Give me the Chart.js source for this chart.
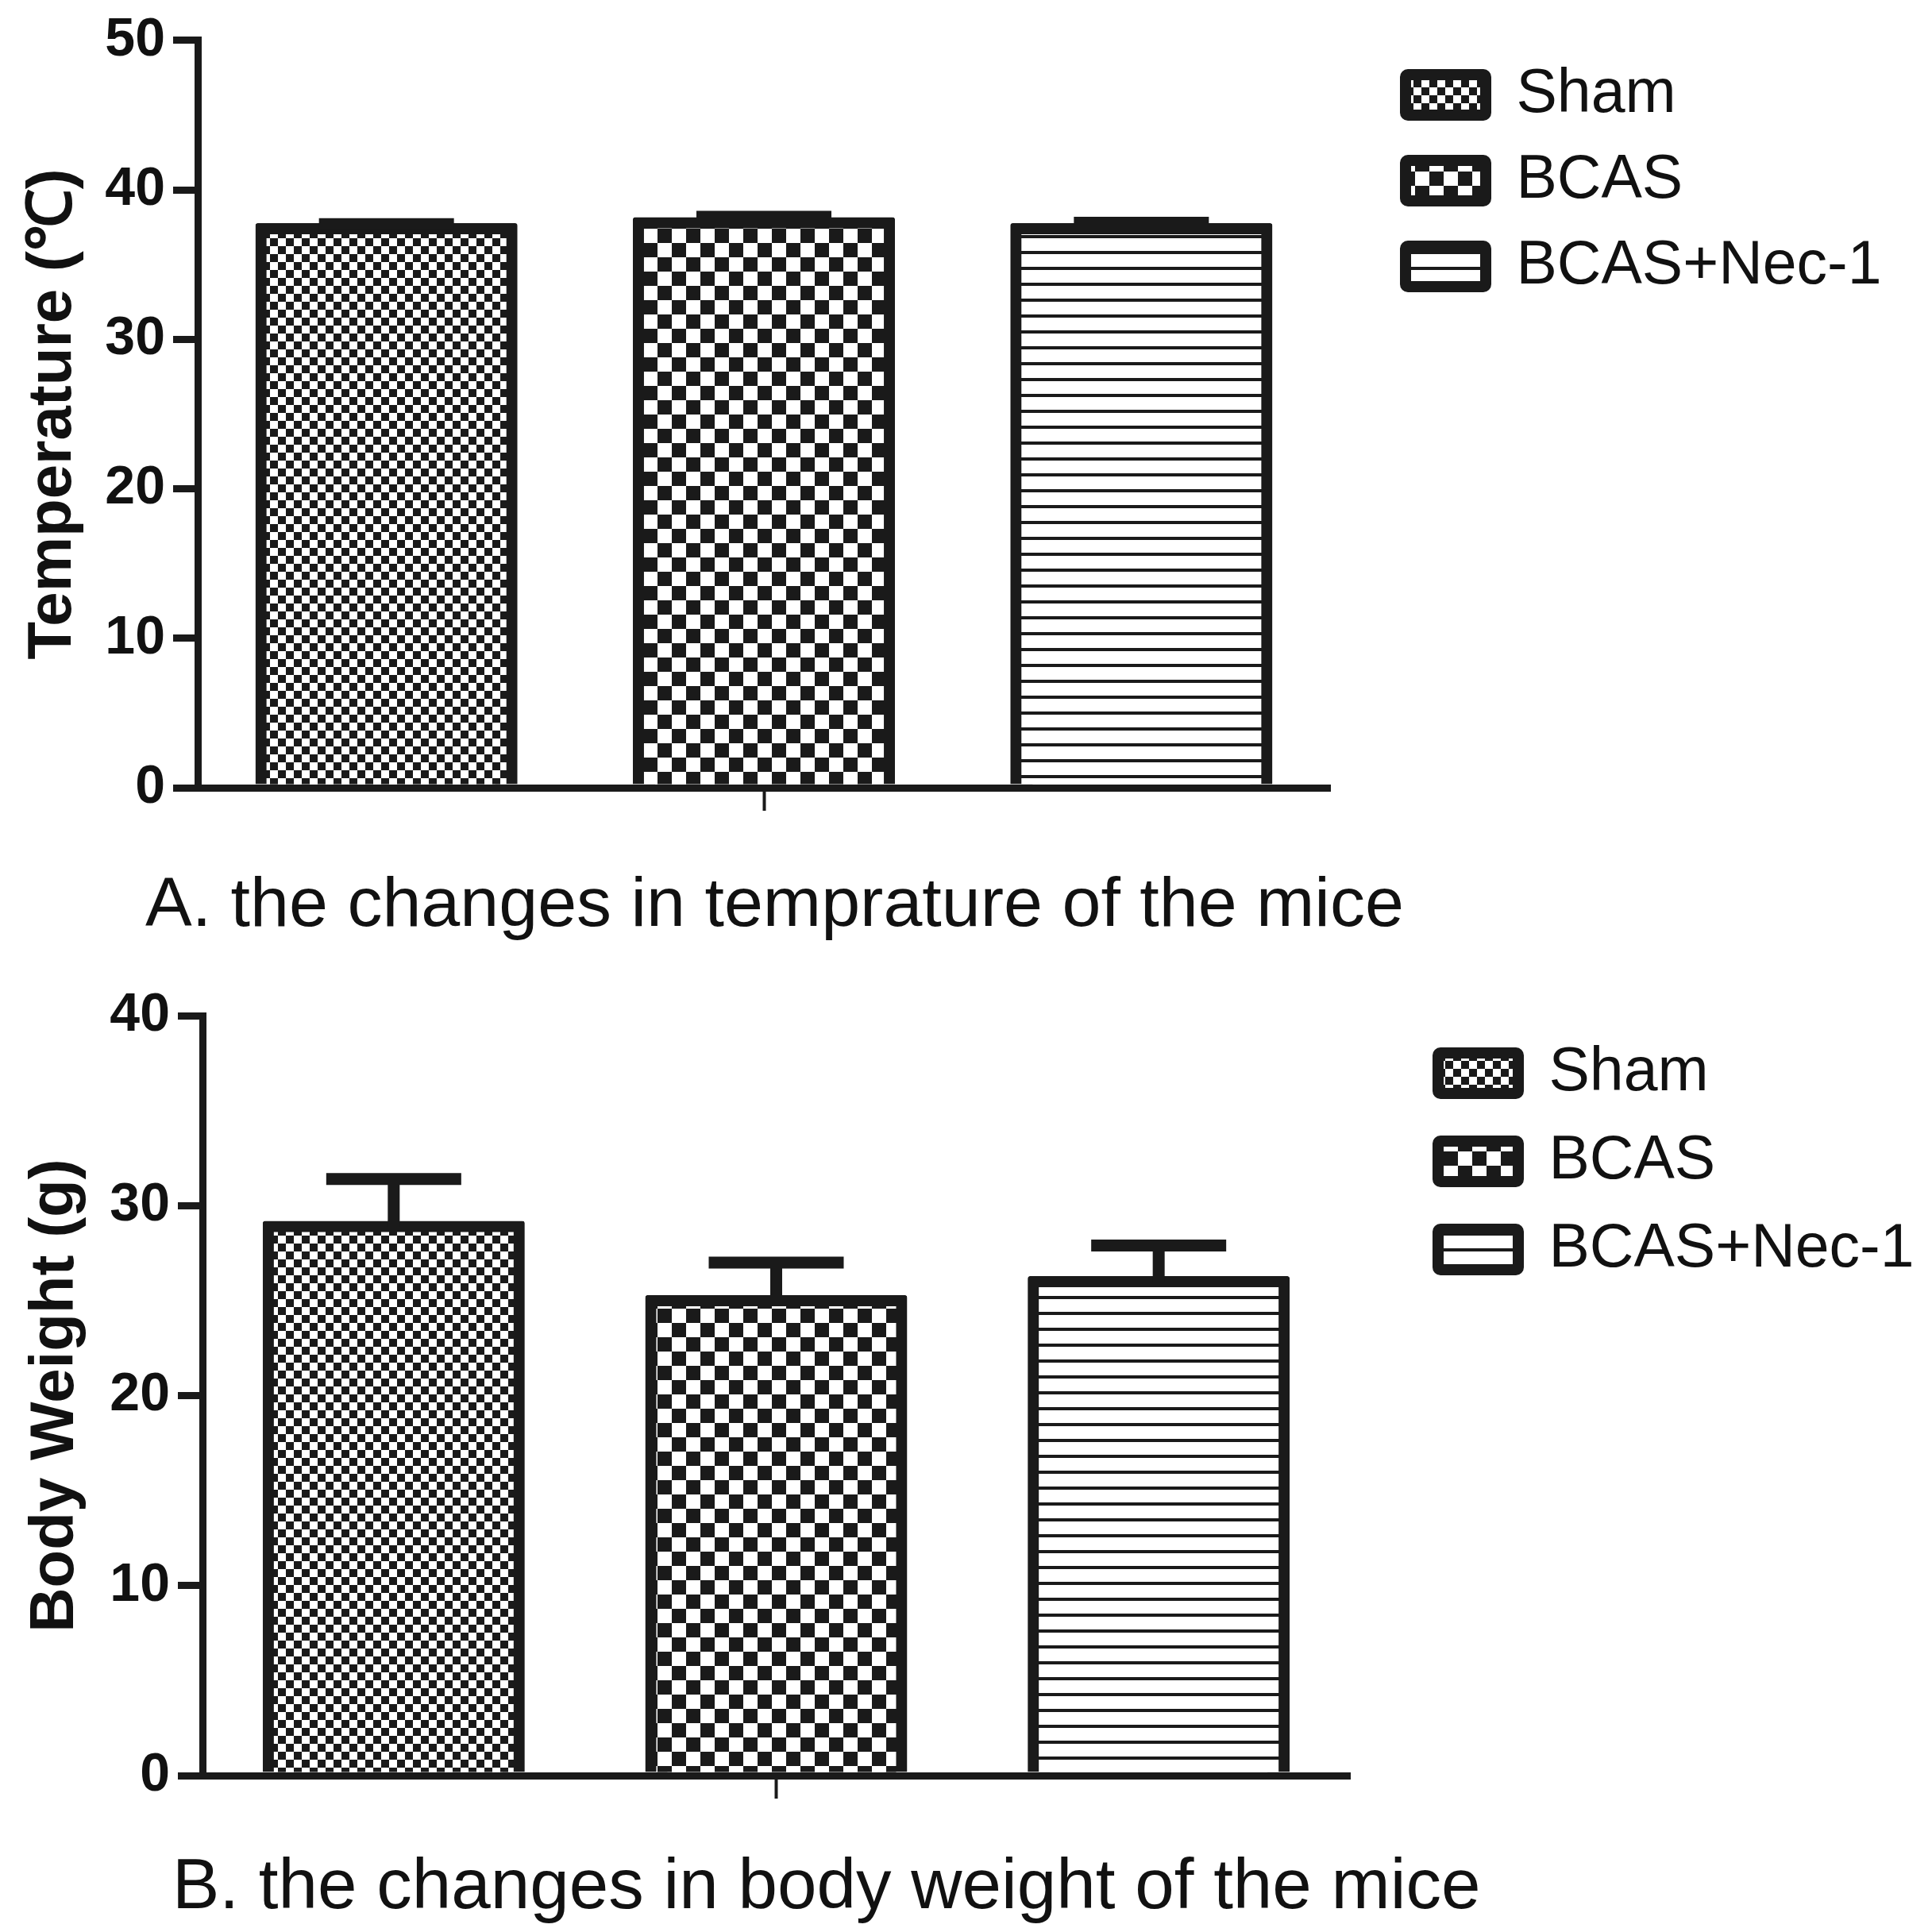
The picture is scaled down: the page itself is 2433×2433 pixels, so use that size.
<!DOCTYPE html>
<html>
<head>
<meta charset="utf-8">
<script src="https://cdn.jsdelivr.net/npm/chart.js@4.4.1/dist/chart.umd.min.js"></script>
<style>
  html, body { margin: 0; padding: 0; background: #fff; }
  #page { position: relative; width: 2433px; height: 2433px; overflow: hidden;
          font-family: "Liberation Sans", Arial, sans-serif; color: #111; }
  canvas { position: absolute; left: 0; }
  #chartA { top: 0; }
  #chartB { top: 1216px; }
  .caption { position: absolute; line-height: 1; white-space: nowrap; }
</style>
</head>
<body>
<div id="page">
  <canvas id="chartA" width="2433" height="1216"></canvas>
  <canvas id="chartB" width="2433" height="1217"></canvas>
  <div class="caption" style="left:183px; top:1092px; font-size:88px;">A. the changes in temprature of the mice</div>
  <div class="caption" style="left:217px; top:2328px; font-size:89px;">B. the changes in body weight of the mice</div>
</div>
<script>
// values (mean + SEM, upper error bar only)
const groups = ['Sham', 'BCAS', 'BCAS+Nec-1'];
const tempMean = [37.4, 37.8, 37.4];
const tempSem = [0.3, 0.4, 0.4];
const weightMean = [28.9, 25.0, 26.0];
const weightSem = [2.5, 2.0, 1.9];
const tempMax = 50;
const weightMax = 40;
const yStep = 10;

const INK = '#1a1a1a';
Chart.defaults.font.family = '"Liberation Sans", Arial, sans-serif';
Chart.defaults.color = '#111';

// hatch fills like the Prism originals
function tile(ctx, w, h, paint) {
  const c = document.createElement('canvas');
  c.width = w; c.height = h;
  const g = c.getContext('2d');
  g.fillStyle = '#fff';
  g.fillRect(0, 0, w, h);
  g.fillStyle = INK;
  paint(g);
  return ctx.createPattern(c, 'repeat');
}

function makeFills(ctx) {
  const fine = tile(ctx, 20, 20, g => { g.fillRect(0, 0, 10, 10); g.fillRect(10, 10, 10, 10); });
  const coarse = tile(ctx, 36, 36, g => { g.fillRect(0, 0, 18, 18); g.fillRect(18, 18, 18, 18); });
  const lines = tile(ctx, 20, 20, g => { g.fillRect(0, 16, 20, 4); });
  return [fine, coarse, lines];
}

// upward SEM whiskers
const errorBars = {
  id: 'errorBars',
  afterDatasetsDraw(chart) {
    const { ctx } = chart;
    const y = chart.scales.y;
    ctx.save();
    ctx.strokeStyle = INK;
    ctx.lineWidth = 15;
    chart.data.datasets.forEach((ds, i) => {
      const bar = chart.getDatasetMeta(i).data[0];
      const top = y.getPixelForValue(ds.data[0] + ds.sem);
      ctx.beginPath();
      ctx.moveTo(bar.x, bar.y);
      ctx.lineTo(bar.x, top);
      ctx.moveTo(bar.x - 85, top);
      ctx.lineTo(bar.x + 85, top);
      ctx.stroke();
    });
    ctx.restore();
  }
};

// keep a gap between the plot and the legend on the right
const legendPlace = {
  id: 'legendPlace',
  beforeLayout(chart, args, opts) {
    const lg = chart.legend;
    if (!lg || lg._patched) return;
    const fit = lg.fit;
    lg.fit = function () { fit.call(this); this.width = opts.width; };
    lg._patched = true;
  },
  afterLayout(chart, args, opts) {
    if (chart.legend) chart.legend.left = opts.left;
  }
};

function makeChart(id, means, sems, yMax, yTitle, box) {
  const ctx = document.getElementById(id).getContext('2d');
  const fills = makeFills(ctx);
  return new Chart(ctx, {
    type: 'bar',
    data: {
      labels: [''],
      datasets: groups.map((g, i) => ({
        label: g,
        data: [means[i]],
        sem: sems[i],
        backgroundColor: fills[i],
        borderColor: INK,
        borderWidth: 14,
        borderSkipped: 'start',
        borderRadius: 3,
        inflateAmount: 7,
        barPercentage: box.barPct,
        categoryPercentage: 1
      }))
    },
    options: {
      responsive: false,
      animation: false,
      devicePixelRatio: 1,
      layout: { padding: { top: box.top, bottom: box.bottom, left: 0, right: 0 } },
      scales: {
        x: {
          grid: { offset: false, drawOnChartArea: false, tickLength: 29, tickWidth: 4, tickColor: INK },
          border: { width: 9, color: INK, z: 1 },
          ticks: { display: false },
          afterFit: s => { s.height = 40; }
        },
        y: {
          min: 0,
          max: yMax,
          ticks: { stepSize: yStep, padding: 10, color: '#111', font: { size: 68, weight: 'bold' } },
          grid: { drawOnChartArea: false, lineWidth: 9, tickLength: 31, tickWidth: 9, tickColor: INK },
          border: { width: 9, color: INK },
          title: {
            display: true,
            text: yTitle,
            color: '#111',
            font: { size: 78, weight: 'bold', lineHeight: 1.2 },
            padding: { top: box.titlePad, bottom: 0 }
          },
          afterFit: s => { s.width = box.left; }
        }
      },
      plugins: {
        legend: {
          position: 'right',
          align: 'start',
          labels: {
            boxWidth: 101,
            boxHeight: 51,
            padding: box.legendPad,
            color: '#111',
            font: { size: 77 },
            useBorderRadius: true,
            borderRadius: 3
          }
        },
        tooltip: { enabled: false },
        legendPlace: { width: 2433 - box.right, left: box.legendLeft }
      }
    },
    plugins: [errorBars, legendPlace]
  });
}

makeChart('chartA', tempMean, tempSem, tempMax, 'Temperature (\u2103)', {
  top: 50, bottom: 184, left: 249, right: 1675, barPct: 0.665,
  titlePad: 21, legendPad: 31, legendLeft: 1739
});

makeChart('chartB', weightMean, weightSem, weightMax, 'Body Weight (g)', {
  top: 63, bottom: 157, left: 255, right: 1700, barPct: 0.656,
  titlePad: 24, legendPad: 34, legendLeft: 1777
});
</script>
</body>
</html>
